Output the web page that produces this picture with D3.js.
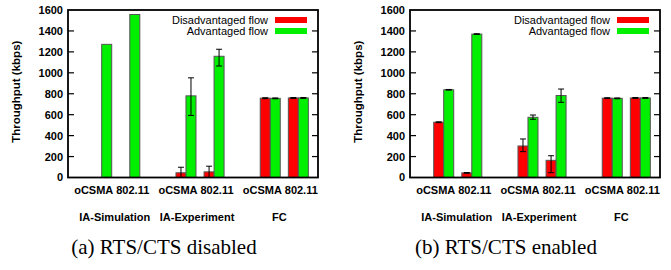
<!DOCTYPE html>
<html>
<head>
<meta charset="utf-8">
<script src="https://cdn.jsdelivr.net/npm/d3@7"></script>
<style>
  body { margin: 0; background: #fff; }
  svg { display: block; }
  .tick-label { font: bold 11px "Liberation Sans", Arial, sans-serif; }
  .legend-label { font: 11px "Liberation Sans", Arial, sans-serif; }
  .caption { font: 21px "Liberation Serif", "Times New Roman", serif; }
</style>
</head>
<body>
<svg id="chart" width="671" height="270"></svg>
<script>
// categories
const groups = ['IA-Simulation', 'IA-Experiment', 'FC'];
const protocols = ['oCSMA', '802.11'];
const seriesNames = ['Disadvantaged flow', 'Advantaged flow'];
const yTicks = [0, 200, 400, 600, 800, 1000, 1200, 1400, 1600];

// (a) RTS/CTS disabled, order: IA-Sim oCSMA, IA-Sim 802.11, IA-Exp oCSMA, IA-Exp 802.11, FC oCSMA, FC 802.11
const disabledDis   = [0, 0, 45, 54, 758, 760];
const disabledDisLo = [0, 0, 0, 0, 753, 755];
const disabledDisHi = [0, 0, 98, 108, 762, 764];
const disabledAdv   = [1272, 1557, 780, 1158, 756, 760];
const disabledAdvLo = [1272, 1557, 593, 1065, 752, 756];
const disabledAdvHi = [1272, 1557, 952, 1225, 760, 764];

// (b) RTS/CTS enabled
const enabledDis   = [528, 44, 301, 164, 758, 760];
const enabledDisLo = [524, 41, 247, 46, 754, 756];
const enabledDisHi = [532, 47, 368, 208, 762, 764];
const enabledAdv   = [838, 1370, 575, 783, 756, 760];
const enabledAdvLo = [835, 1367, 556, 718, 752, 756];
const enabledAdvHi = [841, 1373, 597, 845, 760, 764];

const colors = ['#ff0000', '#00f000'];
const PLOT_W = 250, PLOT_H = 167.5;
const BAR_W = 10;

const svg = d3.select('#chart');
svg.append('rect').attr('width', 671).attr('height', 270).attr('fill', '#fff');

function drawPanel(left, top, caption, series) {
  const g = svg.append('g').attr('transform', `translate(${left},${top})`);

  // slot index: group*3 + protocol, a gap slot between groups
  const x = d3.scaleLinear().domain([-1.2, 7.7]).range([0, PLOT_W]);
  const y = d3.scaleLinear().domain([0, 1600]).range([PLOT_H, 0]);
  const slot = i => Math.floor(i / 2) * 3 + (i % 2);

  // bars
  series.forEach((s, si) => {
    s.values.forEach((v, i) => {
      if (v <= 0) return;
      const cx = x(slot(i));
      const bx = si === 0 ? cx - BAR_W : cx;
      g.append('rect')
        .attr('x', bx).attr('y', y(v))
        .attr('width', BAR_W).attr('height', y(0) - y(v))
        .attr('fill', colors[si])
        .attr('stroke', '#555').attr('stroke-width', 1);
    });
  });

  // error bars
  series.forEach((s, si) => {
    s.values.forEach((v, i) => {
      const lo = s.lo[i], hi = s.hi[i];
      if (lo === hi) return;
      const cx = x(slot(i)) + (si === 0 ? -BAR_W / 2 : BAR_W / 2);
      const y1 = Math.min(y(lo), y(0)), y2 = y(hi);
      g.append('line').attr('x1', cx).attr('x2', cx).attr('y1', y1).attr('y2', y2)
        .attr('stroke', '#000').attr('stroke-width', 1);
      [lo, hi].forEach(e => {
        if (e <= 0) return;
        g.append('line').attr('x1', cx - 3).attr('x2', cx + 3)
          .attr('y1', y(e)).attr('y2', y(e))
          .attr('stroke', '#000').attr('stroke-width', 1);
      });
    });
  });

  // y ticks, mirrored on the right
  yTicks.forEach(t => {
    if (t > 0 && t < 1600) {
      g.append('line').attr('x1', 0).attr('x2', 6).attr('y1', y(t)).attr('y2', y(t))
        .attr('stroke', '#000').attr('stroke-width', 1.2);
      g.append('line').attr('x1', PLOT_W - 6).attr('x2', PLOT_W).attr('y1', y(t)).attr('y2', y(t))
        .attr('stroke', '#000').attr('stroke-width', 1.2);
    }
    g.append('text').attr('class', 'tick-label')
      .attr('x', -5).attr('y', y(t)).attr('dy', '0.36em')
      .attr('text-anchor', 'end').text(t);
  });

  // frame
  g.append('rect').attr('x', 0).attr('y', 0).attr('width', PLOT_W).attr('height', PLOT_H)
    .attr('fill', 'none').attr('stroke', '#000').attr('stroke-width', 1.8);

  // x labels
  groups.forEach((name, gi) => {
    const gc = (x(gi * 3) + x(gi * 3 + 1)) / 2;
    protocols.forEach((p, pi) => {
      g.append('text').attr('class', 'tick-label')
        .attr('x', gc - 3 + (pi === 0 ? -19 : 20)).attr('y', PLOT_H + 16.5)
        .attr('text-anchor', 'middle').text(p);
    });
    g.append('text').attr('class', 'tick-label')
      .attr('x', gc - 1 - gi * 2).attr('y', PLOT_H + 43)
      .attr('text-anchor', 'middle').text(name);
  });

  // y label
  g.append('text').attr('class', 'tick-label')
    .style('font-size', '11.5px')
    .attr('transform', `translate(${-48},${PLOT_H / 2 - 2}) rotate(-90)`)
    .attr('text-anchor', 'middle').text('Throughput (kbps)');

  // legend
  seriesNames.forEach((name, si) => {
    const ly = 10 + si * 11;
    g.append('text').attr('class', 'legend-label')
      .attr('x', 200).attr('y', ly).attr('dy', '0.36em')
      .attr('text-anchor', 'end').text(name);
    g.append('rect').attr('x', 207).attr('y', ly - 3).attr('width', 32).attr('height', 6)
      .attr('fill', colors[si]);
  });

  // caption
  g.append('text').attr('class', 'caption')
    .attr('x', 96).attr('y', PLOT_H + 76)
    .attr('text-anchor', 'middle').text(caption);
}

drawPanel(68, 10, '(a) RTS/CTS disabled', [
  {values: disabledDis, lo: disabledDisLo, hi: disabledDisHi},
  {values: disabledAdv, lo: disabledAdvLo, hi: disabledAdvHi}
]);
drawPanel(410, 10, '(b) RTS/CTS enabled', [
  {values: enabledDis, lo: enabledDisLo, hi: enabledDisHi},
  {values: enabledAdv, lo: enabledAdvLo, hi: enabledAdvHi}
]);
</script>
</body>
</html>
